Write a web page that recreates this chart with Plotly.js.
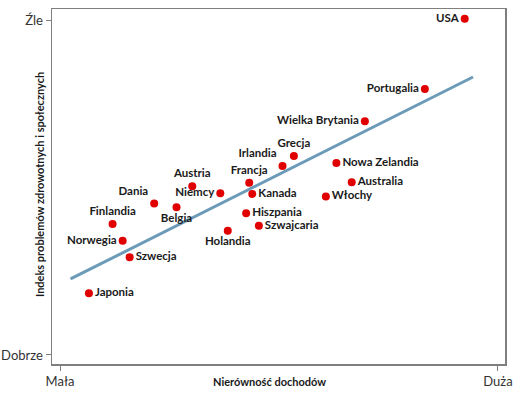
<!DOCTYPE html>
<html>
<head>
<meta charset="utf-8">
<script src="https://cdn.plot.ly/plotly-3.0.1.min.js"></script>
<style>html,body{margin:0;padding:0;background:#fff;}#chart{width:523px;height:398px;}</style>
</head>
<body>
<div id="chart"></div>
<script>
// Country data (income inequality index 0..100, health & social problems index 0..100)
var countries = ["USA","Portugalia","Wielka Brytania","Grecja","Irlandia","Nowa Zelandia","Australia","Włochy","Francja","Kanada","Austria","Niemcy","Dania","Belgia","Hiszpania","Szwajcaria","Holandia","Finlandia","Norwegia","Szwecja","Japonia"];
var inequality = [92.4, 83.3, 69.6, 53.4, 50.8, 63.1, 66.6, 60.7, 43.2, 43.9, 30.2, 36.6, 21.5, 26.6, 42.5, 45.4, 38.3, 12.0, 14.3, 15.9, 6.6];
var problems   = [100.4, 79.4, 69.8, 59.4, 56.4, 57.3, 51.6, 47.3, 51.4, 48.1, 50.4, 48.3, 45.2, 44.1, 42.3, 38.6, 37.1, 39.1, 34.1, 29.2, 18.4];
var labelPos   = ["middle left","middle left","middle left","top center","top left","middle right","middle right","middle right","top center","middle right","top center","middle left","top left","bottom center","middle right","middle right","bottom center","top center","middle left","middle right","middle right"];

// Trend line end points
var trendX = [2.4, 94.3];
var trendY = [22.7, 83.0];

// Axis tick labels
var xTickVals = [0, 100];
var xTickText = ["Mała", "Duża"];
var yTickVals = [0, 100];
var yTickText = ["Dobrze", "Źle"];

var frameColor = "#7f7f7f";

var traces = [
  {
    x: trendX, y: trendY, mode: "lines", type: "scatter",
    line: {color: "#6b9bb8", width: 3}, hoverinfo: "skip", showlegend: false
  },
  {
    x: inequality, y: problems, text: countries, mode: "markers+text", type: "scatter",
    textposition: labelPos,
    textfont: {family: "Lato, 'Open Sans', sans-serif", size: 11.5, color: "#1a1a1a", weight: "bold"},
    marker: {color: "#e00000", size: 8},
    showlegend: false, cliponaxis: false
  }
];

var layout = {
  width: 523, height: 398,
  margin: {l: 52, r: 18, t: 9, b: 34},
  paper_bgcolor: "#ffffff", plot_bgcolor: "#ffffff",
  showlegend: false,
  font: {family: "Lato, 'Open Sans', sans-serif", color: "#333333"},
  xaxis: {
    range: [-1.83, 101.6], tickvals: xTickVals, ticktext: xTickText,
    showgrid: false, zeroline: false, showline: true, mirror: true,
    linecolor: frameColor, linewidth: 1.5,
    ticks: "outside", ticklen: 5, tickcolor: frameColor, tickwidth: 1,
    tickfont: {size: 13, color: "#333333"}
  },
  yaxis: {
    range: [-2.69, 103.3], tickvals: yTickVals, ticktext: yTickText,
    showgrid: false, zeroline: false, showline: true, mirror: true,
    linecolor: frameColor, linewidth: 1.5,
    ticks: "outside", ticklen: 5, tickcolor: frameColor, tickwidth: 1,
    tickfont: {size: 13, color: "#333333"}
  },
  annotations: [
    {text: "<b>Nierówność dochodów</b>", xref: "paper", yref: "paper", x: 0.481, y: -0.0507,
     xanchor: "center", yanchor: "middle", showarrow: false, font: {size: 11, color: "#1a1a1a"}},
    {text: "<b>Indeks problemów zdrowotnych i społecznych</b>", xref: "paper", yref: "paper", x: -0.0287, y: 0.507,
     xanchor: "center", yanchor: "middle", textangle: -90, showarrow: false, font: {size: 11, color: "#1a1a1a"}}
  ]
};

Plotly.newPlot("chart", traces, layout, {displayModeBar: false, staticPlot: true});
</script>
</body>
</html>
